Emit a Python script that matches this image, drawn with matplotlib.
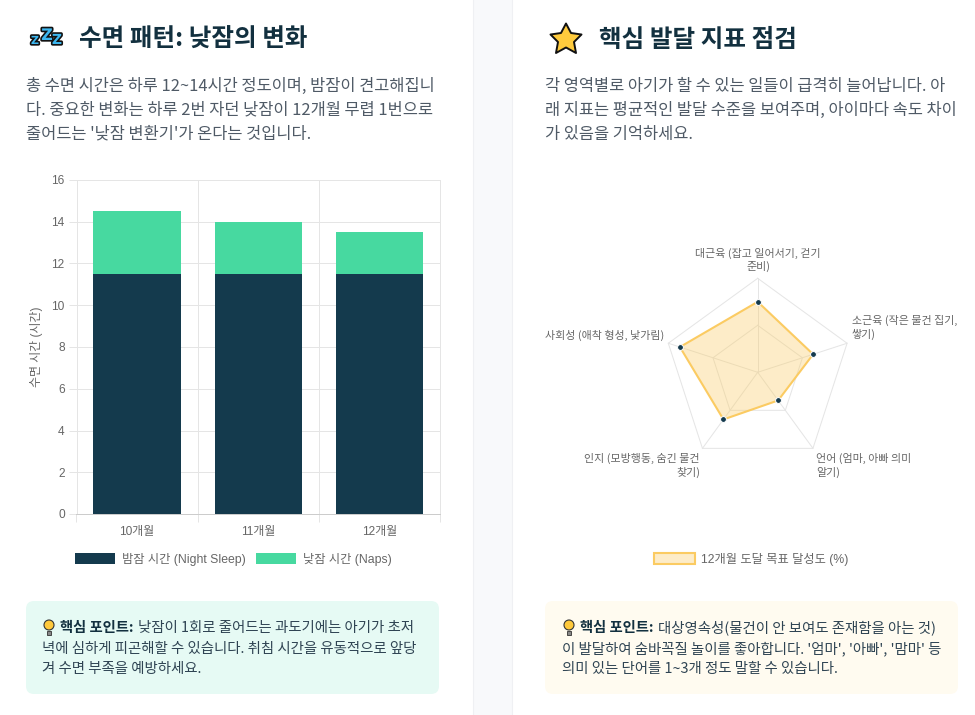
import numpy as np
import matplotlib
matplotlib.use("Agg")
import matplotlib.pyplot as plt
import matplotlib.patheffects as pe
from matplotlib.patches import FancyBboxPatch, Rectangle, Polygon, Circle, Patch

plt.rcParams['font.family'] = ['Noto Sans CJK KR', 'DejaVu Sans']
CHART_FONT = ['Liberation Sans', 'Noto Sans CJK KR']

# ---- data ----
months = ['10개월', '11개월', '12개월']
night_sleep = [11.5, 11.5, 11.5]
naps = [3.0, 2.5, 2.0]
sleep_labels = ['밤잠 시간 (Night Sleep)', '낮잠 시간 (Naps)']
sleep_ticks = [0, 2, 4, 6, 8, 10, 12, 14, 16]
radar_labels = ['대근육 (잡고 일어서기, 걷기\n준비)', '소근육 (작은 물건 집기,\n쌓기)',
                '언어 (엄마, 아빠 의미\n알기)', '인지 (모방행동, 숨긴 물건\n찾기)',
                '사회성 (애착 형성, 낯가림)']
radar_values = [75, 62, 37, 62, 87]
radar_rings = [50, 100]
radar_legend = '12개월 도달 목표 달성도 (%)'

W, H = 975, 715
NAVY, GREEN, AMBER = '#143A4D', '#47D9A0', '#FBCB62'
TITLE, BODY, GREY = '#12303F', '#4F5A66', '#666666'
GRID = '#E5E5E5'

fig = plt.figure(figsize=(W / 100, H / 100), dpi=100, facecolor='white')

def box(l, t, r, b, **kw):
    return fig.add_axes([l / W, 1 - b / H, (r - l) / W, (b - t) / H], **kw)

# page overlay in pixel coordinates
bg = fig.add_axes([0, 0, 1, 1], zorder=0)
bg.set_xlim(0, W); bg.set_ylim(H, 0); bg.axis('off')
bg.add_patch(Rectangle((473, 0), 39, H, fc='#F8F9FB', ec='none'))
bg.plot([472.5, 472.5], [0, H], color='#EFF0F3', lw=0.8)
bg.plot([512, 512], [0, H], color='#EFF0F3', lw=0.8)

def T(x, y, s, size=11, color=BODY, weight='normal', **kw):
    return bg.text(x, y, s, fontsize=size, color=color, fontweight=weight,
                   va='center', ha=kw.pop('ha', 'left'), **kw)

T(79, 40, '수면 패턴: 낮잠의 변화', 17.7, TITLE, 'bold')
T(599, 40, '핵심 발달 지표 점검', 17.7, TITLE, 'bold')
for y, a, b in zip([86, 110, 134],
                   ['총 수면 시간은 하루 12~14시간 정도이며, 밤잠이 견고해집니',
                    '다. 중요한 변화는 하루 2번 자던 낮잠이 12개월 무렵 1번으로',
                    "줄어드는 '낮잠 변환기'가 온다는 것입니다."],
                   ['각 영역별로 아기가 할 수 있는 일들이 급격히 늘어납니다. 아',
                    '래 지표는 평균적인 발달 수준을 보여주며, 아이마다 속도 차이',
                    '가 있음을 기억하세요.']):
    T(26, y, a, 11.85)
    T(545, y, b, 11.85)

# callouts
for x, fc in [(26, '#E6FAF4'), (545, '#FFFBF0')]:
    bg.add_patch(FancyBboxPatch((x + 8, 609), 413 - 16, 93 - 16, fc=fc, ec='none',
                                boxstyle='round,pad=8,rounding_size=8'))
lines_l = ['낮잠이 1회로 줄어드는 과도기에는 아기가 초저',
           '녁에 심하게 피곤해할 수 있습니다. 취침 시간을 유동적으로 앞당',
           '겨 수면 부족을 예방하세요.']
lines_r = ['대상영속성(물건이 안 보여도 존재함을 아는 것)',
           "이 발달하여 숨바꼭질 놀이를 좋아합니다. '엄마', '아빠', '맘마' 등",
           '의미 있는 단어를 1~3개 정도 말할 수 있습니다.']
for x0, lines in [(42, lines_l), (562, lines_r)]:
    T(x0 + 18, 628, '핵심 포인트:', 10.3, TITLE, 'bold')
    T(x0 + 96, 628, lines[0], 10.4, '#2F4453')
    T(x0, 649, lines[1], 10.4, '#2F4453')
    T(x0, 669.5, lines[2], 10.4, '#2F4453')
    # bulb icon
    cx = x0 + 7
    bg.add_patch(Circle((cx, 625), 5, fc='#FFC93C', ec='#333333', lw=0.8))
    bg.add_patch(Rectangle((cx - 2, 630.5), 4, 4, fc='#888888', ec='#333333', lw=0.6))

# icons
star = [(566, 23.5), (571, 33), (581.5, 34.5), (574, 42), (576, 53), (566, 47.5),
        (556, 53), (558, 42), (550.5, 34.5), (561, 33)]
bg.add_patch(Polygon(star, closed=True, fc='#FFCB3D', ec='#111111', lw=1.4, joinstyle='round'))
for x, y, s in [(35, 41, 8), (47, 35.5, 11.5), (57, 40, 10)]:
    bg.text(x, y, 'Z', fontsize=s, color='#3DB7F0', fontweight='bold', ha='center', va='center',
            family='DejaVu Sans',
            path_effects=[pe.withStroke(linewidth=2.4, foreground='#111111')])

# stacked bars
ax = box(76.5, 180, 440, 514, zorder=2)
ax.patch.set_alpha(0)
x = np.arange(len(months))
b1 = ax.bar(x, night_sleep, width=0.72, color=NAVY, zorder=3, label=sleep_labels[0])
b2 = ax.bar(x, naps, width=0.72, bottom=night_sleep, color=GREEN, zorder=3, label=sleep_labels[1])
ax.set_xlim(-0.5, 2.5); ax.set_ylim(0, 16)
ax.set_yticks(sleep_ticks)
ax.set_xticks(x, months)
ax.set_xticks([-0.5, 0.5, 1.5, 2.5], minor=True)
ax.grid(True, axis='y', color=GRID, lw=0.72, zorder=0)
ax.grid(True, axis='x', which='minor', color=GRID, lw=0.72, zorder=0)
ax.grid(False, axis='x', which='major')
ax.tick_params(axis='y', length=5.5, width=0.72, color=GRID, labelsize=8.6,
               labelcolor=GREY, pad=3)
ax.tick_params(axis='x', which='major', length=0, labelsize=8.6, labelcolor=GREY, pad=9)
ax.tick_params(axis='x', which='minor', length=5.5, width=0.72, color=GRID)
for lab in ax.get_xticklabels() + ax.get_yticklabels():
    lab.set_family(CHART_FONT)
for s in ax.spines.values():
    s.set_color(GRID); s.set_linewidth(0.72)
ax.spines['bottom'].set_color('#CCCCCC')
ax.set_ylabel('수면 시간 (시간)', fontsize=8.6, color=GREY, labelpad=6, family=CHART_FONT)
ax.legend(handles=[b1, b2], loc='center', bbox_to_anchor=((233 - 76.5) / 363.5, 1 - (559 - 180) / 334),
          ncol=2, frameon=False, labelcolor=GREY, handlelength=3.33, handleheight=1.0,
          handletextpad=0.5, columnspacing=0.85, borderpad=0, borderaxespad=0,
          prop={'family': CHART_FONT, 'size': 8.8})

# radar
R = 94
cx, cy = 757.7, 372.3
rax = box(cx - R, cy - R, cx + R, cy + R, projection='polar', zorder=2)
rax.set_theta_zero_location('N'); rax.set_theta_direction(-1)
rax.set_ylim(0, 100)
rax.axis('off')
rax.patch.set_alpha(0)
theta = np.linspace(0, 2 * np.pi, len(radar_labels), endpoint=False)
closed = np.r_[theta, theta[0]]
for ring in radar_rings:
    rax.plot(closed, [ring] * len(closed), color=GRID, lw=0.72, zorder=1, clip_on=False)
for t in theta:
    rax.plot([t, t], [0, 100], color=GRID, lw=0.72, zorder=1, clip_on=False)
vals = np.r_[radar_values, radar_values[0]]
rax.fill(closed, vals, color=AMBER, alpha=0.35, zorder=2, lw=0)
rax.plot(closed, vals, color=AMBER, lw=1.5, zorder=3)
rax.plot(theta, radar_values, 'o', color=NAVY, ms=4.2, mec='white', mew=0.7, zorder=4, clip_on=False)
label_pos = [(758, 260, 'center'), (852, 327.5, 'left'), (816, 465.5, 'left'),
             (700, 465.5, 'right'), (664, 335, 'right')]
for (lx, ly, ha), lab in zip(label_pos, radar_labels):
    T(lx, ly, lab, 7.9, GREY, ha=ha, linespacing=1.3, multialignment=ha)
handle = Patch(fc=AMBER + '59', ec=AMBER, lw=1.5, label=radar_legend)
fig.legend(handles=[handle], loc='center', bbox_to_anchor=(751.5 / W, 1 - 559 / H), frameon=False,
           labelcolor=GREY, handlelength=3.33, handleheight=1.0, handletextpad=0.5,
           borderpad=0, borderaxespad=0, prop={'family': CHART_FONT, 'size': 8.8})

fig.savefig('out.png', dpi=100)
